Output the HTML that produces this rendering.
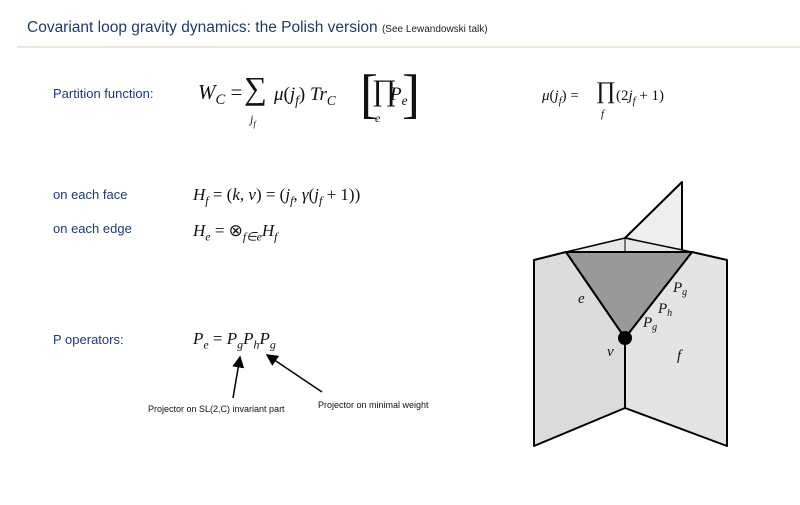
<!DOCTYPE html>
<html><head><meta charset="utf-8"><style>
body{margin:0;width:800px;height:505px;background:#fff;position:relative;overflow:hidden;font-family:"Liberation Sans",sans-serif}
.a{position:absolute;white-space:nowrap}
.lab{color:#1f3a7a;font-size:13px}
.m{font-family:"Liberation Serif",serif;font-style:italic;color:#111}
.r{font-style:normal}
sub{font-size:70%}
</style></head><body>
<div class="a" style="left:27px;top:19px;font-size:15.5px;color:#1f3a6e">Covariant loop gravity dynamics: the Polish version <span style="font-size:10px;color:#222">(See Lewandowski talk)</span></div>
<div class="a" style="left:17px;top:46px;width:783px;height:2px;background:#efe6da"></div>

<div class="a lab" style="left:53px;top:86px">Partition function:</div>
<div class="a m" style="left:198px;top:80px;font-size:21px">W<sub>C</sub> <span class="r">=</span></div>
<div class="a m r" style="left:244px;top:70px;font-size:32px">&sum;</div>
<div class="a m" style="left:250px;top:112px;font-size:12px">j<sub>f</sub></div>
<div class="a m" style="left:274px;top:84px;font-size:19px">&mu;<span class="r">(</span>j<sub>f</sub><span class="r">)</span> Tr<sub>C</sub></div>
<div class="a m r" style="left:360px;top:63px;font-size:54px;font-weight:100">[</div>
<div class="a m r" style="left:372px;top:74px;font-size:30px">&prod;</div>
<div class="a m" style="left:375px;top:111px;font-size:12px">e</div>
<div class="a m" style="left:390px;top:84px;font-size:19px">P<sub>e</sub></div>
<div class="a m r" style="left:402px;top:63px;font-size:54px">]</div>
<div class="a m" style="left:542px;top:88px;font-size:15px">&mu;<span class="r">(</span>j<sub>f</sub><span class="r">) = </span></div>
<div class="a m r" style="left:596px;top:78px;font-size:24px">&prod;</div>
<div class="a m" style="left:601px;top:108px;font-size:11px">f</div>
<div class="a m" style="left:616px;top:88px;font-size:15px"><span class="r">(2</span>j<sub>f</sub> <span class="r">+ 1)</span></div>

<div class="a lab" style="left:53px;top:187px">on each face</div>
<div class="a m" style="left:193px;top:185px;font-size:17px">H<sub>f</sub> <span class="r">= (</span>k<span class="r">,</span> &nu;<span class="r">) = (</span>j<sub>f</sub><span class="r">,</span> &gamma;<span class="r">(</span>j<sub>f</sub> <span class="r">+ 1))</span></div>
<div class="a lab" style="left:53px;top:221px">on each edge</div>
<div class="a m" style="left:193px;top:221px;font-size:17px">H<sub>e</sub> <span class="r">= &otimes;</span><sub>f&isin;e</sub>H<sub>f</sub></div>

<div class="a lab" style="left:53px;top:332px">P operators:</div>
<div class="a m" style="left:193px;top:329px;font-size:17px">P<sub>e</sub> <span class="r">=</span> P<sub>g</sub>P<sub>h</sub>P<sub>g</sub></div>
<div class="a" style="left:148px;top:404px;font-size:9px;color:#111">Projector on SL(2,C) invariant part</div>
<div class="a" style="left:318px;top:400px;font-size:9px;color:#111">Projector on minimal weight</div>

<svg class="a" style="left:0;top:0" width="800" height="505">
<defs><marker id="ah" markerWidth="8" markerHeight="8" refX="7" refY="4" orient="auto"><path d="M0,0 L8,4 L0,8 z" fill="#000"/></marker></defs>
<line x1="233" y1="398" x2="240" y2="357" stroke="#000" stroke-width="1.5" marker-end="url(#ah)"/>
<line x1="322" y1="392" x2="267" y2="355" stroke="#000" stroke-width="1.5" marker-end="url(#ah)"/>
<g stroke="#000" stroke-linejoin="round">
<polygon points="625,238 682,182 682,252" fill="#efefef" stroke-width="2"/>
<polygon points="566,252 625,238 692,252" fill="#e8e8e8" stroke-width="1.5"/>
<line x1="625" y1="238" x2="625" y2="252" stroke-width="1"/>
<polygon points="534,260 566,252 625,338 625,408 534,446" fill="#dcdcdc" stroke-width="2"/>
<polygon points="727,260 692,252 625,338 625,408 727,446" fill="#e4e4e4" stroke-width="2"/>
<polygon points="566,252 692,252 625,338" fill="#999" stroke-width="2"/>
<line x1="625" y1="338" x2="625" y2="408" stroke-width="1.2"/>
</g>
<circle cx="625" cy="338" r="7" fill="#000"/>
<g font-family="Liberation Serif,serif" font-style="italic" font-size="15" fill="#111">
<text x="578" y="303">e</text>
<text x="607" y="356">v</text>
<text x="677" y="360">f</text>
<text x="673" y="292">P<tspan font-size="10" dy="3">g</tspan></text>
<text x="658" y="313">P<tspan font-size="10" dy="3">h</tspan></text>
<text x="643" y="327">P<tspan font-size="10" dy="3">g</tspan></text>
</g>
</svg>
</body></html>
